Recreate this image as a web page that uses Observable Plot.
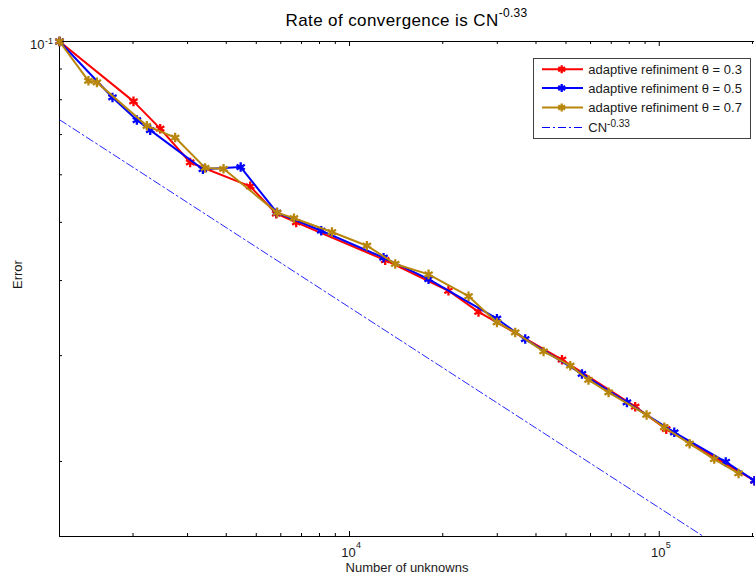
<!DOCTYPE html>
<html><head><meta charset="utf-8">
<script src="https://cdn.jsdelivr.net/npm/d3@7"></script>
<script src="https://cdn.jsdelivr.net/npm/@observablehq/plot@0.6"></script>
<style>
body{margin:0;background:#fff;font-family:"Liberation Sans",Arial,sans-serif;}
#wrap{position:relative;width:755px;height:574px;overflow:hidden;background:#fff;}
#chart{position:absolute;left:0;top:0;}
#title{position:absolute;left:59px;width:695px;top:12px;text-align:center;font-size:17px;line-height:17px;letter-spacing:0.4px;color:#000;white-space:nowrap;}
#title .sup{font-size:12px;position:relative;top:-9px;letter-spacing:0.3px;}
#legend{position:absolute;left:532px;top:57px;}
</style></head><body>
<div id="wrap">
<div id="chart"></div>
<div id="title">Rate of convergence is CN<span class="sup">-0.33</span></div>
<svg id="legend" width="222" height="84"></svg>
</div>
<script>
// theta = 0.3
const N_03 = [1158, 2007, 2448, 3059, 4779, 5799, 6729, 13040, 20870, 26090, 48520, 83640, 105340, 203000];
const E_03 = [0.1, 0.0795, 0.0716, 0.0629, 0.0574, 0.0517, 0.0500, 0.04325, 0.03847, 0.03548, 0.02954, 0.02467, 0.02263, 0.01858];
// theta = 0.5
const N_05 = [1158, 1717, 2058, 2273, 3362, 4453, 5830, 8103, 12880, 17995, 29920, 36920, 56280, 78650, 111800, 163900, 203000];
const E_05 = [0.1, 0.0807, 0.0740, 0.0712, 0.0613, 0.0618, 0.0519, 0.04842, 0.04367, 0.04021, 0.03456, 0.03197, 0.02797, 0.02508, 0.02236, 0.01996, 0.01858];
// theta = 0.7
const N_07 = [1158, 1436, 1529, 2217, 2736, 3420, 3920, 5840, 6615, 8774, 11380, 14050, 17995, 24225, 29920, 34280, 42310, 51600, 59110, 68610, 90990, 103800, 125300, 150500, 180300];
const E_07 = [0.1, 0.0860, 0.0855, 0.0724, 0.0692, 0.0616, 0.0614, 0.0519, 0.0508, 0.04818, 0.04572, 0.04263, 0.04096, 0.03767, 0.03407, 0.03279, 0.03049, 0.02887, 0.02733, 0.02606, 0.02390, 0.02280, 0.02141, 0.02018, 0.0191];
// reference line CN^-0.33 (end points)
const N_ref = [1158, 139000];
const E_ref = [0.0741, 0.015];

const seriesNames = ["adaptive refiniment \u03b8 = 0.3", "adaptive refiniment \u03b8 = 0.5", "adaptive refiniment \u03b8 = 0.7"];
const seriesColors = ["#ff0000", "#0000ff", "#b8860b"];
const refName = "CN";
const refExp = "-0.33";

const xDomain = [1158, 203000];
const yDomain = [0.015, 0.1];
const xMajor = [1e4, 1e5];
const xMajorExp = ["4", "5"];
const xMinor = [2000,3000,4000,5000,6000,7000,8000,9000,20000,30000,40000,50000,60000,70000,80000,90000,200000];
const yMajor = [0.1];
const yMajorExp = ["-1"];
const yMinor = [0.02,0.03,0.04,0.05,0.06,0.07,0.08,0.09];

const toRows = (N, E) => N.map((n, i) => ({n, e: E[i]}));
const s03 = toRows(N_03, E_03), s05 = toRows(N_05, E_05), s07 = toRows(N_07, E_07);
const ref = toRows(N_ref, E_ref);
const all = [s03, s05, s07];

const W = 755, H = 574, mL = 59, mR = 1, mT = 41, mB = 38;
const fw = W - mL - mR, fh = H - mT - mB;
const font = {fontFamily: "Liberation Sans, Arial, sans-serif"};
const txt = "#1a1a1a";

const marks = [
  // axes lines
  Plot.ruleX([xDomain[0]], {x: d => d, stroke: "#000"}),
  Plot.ruleY([yDomain[0]], {y: d => d, stroke: "#000"}),
  Plot.ruleY([yDomain[1]], {y: d => d, stroke: "#000"}),
  // inward ticks bottom / top
  Plot.ruleX(xMinor, {x: d => d, insetTop: fh - 3, stroke: "#000"}),
  Plot.ruleX(xMinor, {x: d => d, insetBottom: fh - 3, stroke: "#000"}),
  Plot.ruleX(xMajor, {x: d => d, insetTop: fh - 5, stroke: "#000"}),
  Plot.ruleX(xMajor, {x: d => d, insetBottom: fh - 5, stroke: "#000"}),
  // inward ticks left
  Plot.ruleY(yMinor, {y: d => d, insetRight: fw - 3, stroke: "#000"}),
  // reference line
  Plot.line(ref, {x: "n", y: "e", stroke: "#0000ff", strokeWidth: 1, strokeOpacity: 0.85, strokeDasharray: "8,3,2,3"}),
];
all.forEach((s, i) => {
  marks.push(Plot.line(s, {x: "n", y: "e", stroke: seriesColors[i], strokeWidth: 2}));
  marks.push(Plot.dot(s, {x: "n", y: "e", symbol: "asterisk", r: 4.5, stroke: seriesColors[i], strokeWidth: 2.3}));
});
marks.push(
  // x tick labels
  Plot.text(xMajor, {x: d => d, frameAnchor: "bottom", text: () => "10", dy: 20, dx: -1, lineAnchor: "bottom", fontSize: 13, fill: txt, ...font}),
  Plot.text(xMajor, {x: d => d, frameAnchor: "bottom", text: (d, i) => xMajorExp[i], dy: 11, dx: 6.5, textAnchor: "start", lineAnchor: "bottom", fontSize: 9, fill: txt, ...font}),
  // y tick labels
  Plot.text(yMajor, {y: d => d, frameAnchor: "left", text: () => "10", dy: 7, dx: -15, textAnchor: "end", lineAnchor: "bottom", fontSize: 13, fill: txt, ...font}),
  Plot.text(yMajor, {y: d => d, frameAnchor: "left", text: (d, i) => yMajorExp[i], dy: 2, dx: -14.5, textAnchor: "start", lineAnchor: "bottom", fontSize: 9, fill: txt, ...font}),
  // axis labels
  Plot.text(["Number of unknowns"], {frameAnchor: "bottom", dy: 35, lineAnchor: "bottom", fontSize: 13, fill: txt, ...font}),
  Plot.text(["Error"], {frameAnchor: "left", dx: -42, rotate: -90, lineAnchor: "middle", fontSize: 13, fill: txt, ...font})
);

const chart = Plot.plot({
  width: W, height: H,
  marginLeft: mL, marginRight: mR, marginTop: mT, marginBottom: mB,
  x: {type: "log", domain: xDomain, axis: null},
  y: {type: "log", domain: yDomain, axis: null},
  style: {background: "#fff", fontFamily: "Liberation Sans, Arial, sans-serif"},
  marks
});
document.getElementById("chart").appendChild(chart);

// legend
const lg = d3.select("#legend");
lg.append("rect").attr("x", 1.5).attr("y", 1.5).attr("width", 217).attr("height", 80)
  .attr("fill", "#fff").attr("stroke", "#404040").attr("stroke-width", 1);
const rowsY = [12.3, 31, 50.5, 70.5];
const ast = d3.symbol(d3.symbolAsterisk, 45)();
seriesNames.forEach((name, i) => {
  const y = rowsY[i];
  lg.append("line").attr("x1", 10).attr("x2", 51).attr("y1", y).attr("y2", y)
    .attr("stroke", seriesColors[i]).attr("stroke-width", 2);
  lg.append("path").attr("d", ast).attr("transform", `translate(29.7,${y})`)
    .attr("fill", "none").attr("stroke", seriesColors[i]).attr("stroke-width", 2.3);
  lg.append("text").attr("x", 56.3).attr("y", y + 4.7).attr("font-size", 13)
    .attr("font-family", "Liberation Sans, Arial, sans-serif").attr("fill", txt).text(name);
});
{
  const y = rowsY[3];
  lg.append("line").attr("x1", 10).attr("x2", 51).attr("y1", y).attr("y2", y)
    .attr("stroke", "#0000ff").attr("stroke-width", 1).attr("stroke-dasharray", "8,3,2,3");
  const t = lg.append("text").attr("x", 56.3).attr("y", y + 4.7).attr("font-size", 13)
    .attr("font-family", "Liberation Sans, Arial, sans-serif").attr("fill", txt);
  t.append("tspan").text(refName);
  t.append("tspan").attr("dy", -5).attr("font-size", 10).text(refExp);
}
</script>
</body></html>
